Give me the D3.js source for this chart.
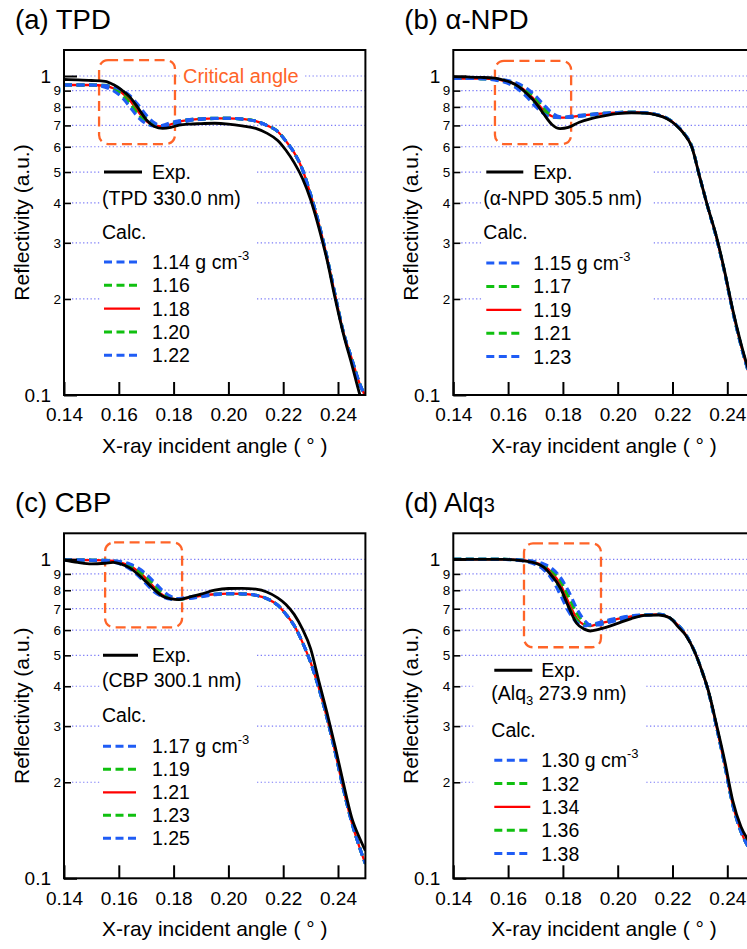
<!DOCTYPE html>
<html><head><meta charset="utf-8">
<script src="https://cdn.jsdelivr.net/npm/d3@7"></script>
<style>
html,body{margin:0;padding:0;background:#fff;}
svg{display:block;font-family:"Liberation Sans",Arial,Helvetica,sans-serif;}
</style></head>
<body>
<script>
// ---------------- DATA ----------------
const xTicks = [0.14, 0.16, 0.18, 0.20, 0.22, 0.24];
const yMajorTicks = [1, 0.1];
const yMajorLabels = ["1", "0.1"];
const yMinorTicks = [0.9, 0.8, 0.7, 0.6, 0.5, 0.4, 0.3, 0.2];
const yMinorLabels = ["9", "8", "7", "6", "5", "4", "3", "2"];
const gridValues = [1, 0.9, 0.8, 0.7, 0.6, 0.5, 0.4, 0.3, 0.2];

// (a) TPD
const angleA = [0.140,0.145,0.150,0.155,0.158,0.161,0.164,0.167,0.170,0.173,0.176,0.179,0.182,0.186,0.190,0.195,0.200,0.205,0.210,0.214,0.218,0.221,0.224,0.227,0.230,0.233,0.236,0.239,0.242,0.245,0.248,0.250];
const expA = [0.975,0.972,0.968,0.962,0.940,0.905,0.860,0.795,0.730,0.695,0.685,0.690,0.702,0.707,0.709,0.711,0.707,0.698,0.685,0.662,0.628,0.585,0.535,0.478,0.410,0.335,0.265,0.200,0.155,0.125,0.100,0.088];
const calcA114 = [0.937,0.937,0.937,0.922,0.899,0.859,0.801,0.743,0.709,0.697,0.701,0.714,0.724,0.731,0.735,0.737,0.737,0.733,0.722,0.700,0.670,0.625,0.575,0.510,0.425,0.345,0.270,0.205,0.157,0.130,0.108,0.099];
const calcA116 = [0.937,0.937,0.937,0.927,0.907,0.874,0.820,0.759,0.715,0.698,0.698,0.709,0.722,0.730,0.735,0.737,0.737,0.733,0.722,0.700,0.670,0.625,0.575,0.510,0.425,0.345,0.270,0.205,0.157,0.130,0.108,0.099];
const calcA118 = [0.937,0.937,0.937,0.932,0.915,0.888,0.840,0.775,0.722,0.700,0.695,0.705,0.720,0.729,0.734,0.737,0.737,0.733,0.722,0.700,0.670,0.625,0.575,0.510,0.425,0.345,0.270,0.205,0.157,0.130,0.108,0.099];
const calcA120 = [0.937,0.937,0.937,0.935,0.920,0.896,0.855,0.795,0.738,0.706,0.696,0.702,0.716,0.727,0.732,0.736,0.737,0.733,0.722,0.700,0.670,0.625,0.575,0.510,0.425,0.345,0.270,0.205,0.157,0.130,0.108,0.099];
const calcA122 = [0.937,0.937,0.937,0.934,0.925,0.904,0.869,0.814,0.754,0.713,0.698,0.699,0.711,0.725,0.731,0.736,0.737,0.733,0.722,0.700,0.670,0.625,0.575,0.510,0.425,0.345,0.270,0.205,0.157,0.130,0.108,0.099];
const densA = ["1.14", "1.16", "1.18", "1.20", "1.22"];

// (b) α-NPD
const angleB = angleA;
const expB = [0.995,0.993,0.990,0.984,0.972,0.955,0.925,0.878,0.825,0.760,0.705,0.684,0.690,0.716,0.734,0.750,0.762,0.767,0.765,0.755,0.735,0.705,0.662,0.600,0.480,0.385,0.315,0.245,0.185,0.145,0.118,0.105];
const calcB115 = [0.982,0.982,0.981,0.972,0.960,0.939,0.904,0.857,0.802,0.761,0.743,0.741,0.746,0.753,0.759,0.765,0.768,0.770,0.767,0.757,0.737,0.707,0.664,0.602,0.480,0.385,0.312,0.243,0.183,0.143,0.116,0.103];
const calcB117 = [0.982,0.982,0.981,0.975,0.964,0.947,0.916,0.873,0.819,0.770,0.745,0.740,0.744,0.751,0.758,0.764,0.768,0.770,0.767,0.757,0.737,0.707,0.664,0.602,0.480,0.385,0.312,0.243,0.183,0.143,0.116,0.103];
const calcB119 = [0.982,0.982,0.981,0.978,0.968,0.955,0.928,0.888,0.836,0.780,0.748,0.740,0.742,0.750,0.757,0.764,0.768,0.770,0.767,0.757,0.737,0.707,0.664,0.602,0.480,0.385,0.312,0.243,0.183,0.143,0.116,0.103];
const calcB121 = [0.982,0.982,0.981,0.979,0.971,0.959,0.936,0.900,0.852,0.797,0.757,0.742,0.741,0.748,0.755,0.763,0.768,0.770,0.767,0.757,0.737,0.707,0.664,0.602,0.480,0.385,0.312,0.243,0.183,0.143,0.116,0.103];
const calcB123 = [0.982,0.982,0.981,0.980,0.974,0.963,0.944,0.912,0.867,0.814,0.767,0.745,0.741,0.746,0.754,0.762,0.768,0.770,0.767,0.757,0.737,0.707,0.664,0.602,0.480,0.385,0.312,0.243,0.183,0.143,0.116,0.103];
const densB = ["1.15", "1.17", "1.19", "1.21", "1.23"];

// (c) CBP
const angleC = angleA;
const expC = [0.995,0.978,0.967,0.972,0.978,0.965,0.940,0.898,0.850,0.803,0.766,0.752,0.748,0.763,0.778,0.800,0.810,0.811,0.806,0.790,0.757,0.722,0.672,0.605,0.525,0.415,0.330,0.258,0.198,0.155,0.133,0.122];
const calcC117 = [0.995,0.995,0.994,0.990,0.980,0.963,0.933,0.889,0.837,0.790,0.762,0.750,0.753,0.763,0.771,0.778,0.780,0.779,0.771,0.753,0.718,0.672,0.620,0.550,0.475,0.395,0.318,0.248,0.190,0.150,0.124,0.111];
const calcC119 = [0.995,0.995,0.994,0.991,0.984,0.969,0.944,0.904,0.854,0.803,0.768,0.752,0.750,0.760,0.770,0.777,0.780,0.779,0.771,0.753,0.718,0.672,0.620,0.550,0.475,0.395,0.318,0.248,0.190,0.150,0.124,0.111];
const calcC121 = [0.995,0.995,0.994,0.992,0.988,0.975,0.955,0.918,0.870,0.815,0.773,0.754,0.748,0.758,0.768,0.777,0.780,0.779,0.771,0.753,0.718,0.672,0.620,0.550,0.475,0.395,0.318,0.248,0.190,0.150,0.124,0.111];
const calcC123 = [0.995,0.995,0.994,0.993,0.989,0.979,0.961,0.929,0.885,0.832,0.786,0.760,0.750,0.756,0.766,0.776,0.780,0.779,0.771,0.753,0.718,0.672,0.620,0.550,0.475,0.395,0.318,0.248,0.190,0.150,0.124,0.111];
const calcC125 = [0.995,0.995,0.994,0.993,0.990,0.983,0.967,0.940,0.899,0.848,0.798,0.765,0.752,0.754,0.763,0.774,0.780,0.779,0.771,0.753,0.718,0.672,0.620,0.550,0.475,0.395,0.318,0.248,0.190,0.150,0.124,0.111];
const densC = ["1.17", "1.19", "1.21", "1.23", "1.25"];

// (d) Alq3
const angleD = [0.140,0.145,0.150,0.155,0.158,0.161,0.164,0.167,0.170,0.173,0.176,0.179,0.182,0.185,0.188,0.190,0.193,0.196,0.200,0.205,0.210,0.215,0.219,0.222,0.225,0.228,0.231,0.233,0.236,0.239,0.242,0.245,0.248,0.250];
const expD = [1.0,1.0,1.0,1.0,1.0,0.998,0.993,0.985,0.972,0.945,0.886,0.815,0.712,0.630,0.603,0.596,0.603,0.613,0.630,0.652,0.667,0.669,0.656,0.615,0.575,0.515,0.440,0.390,0.305,0.235,0.175,0.145,0.130,0.122];
const calcD130 = [1.0,1.0,1.0,1.0,1.0,0.996,0.991,0.981,0.963,0.927,0.866,0.776,0.687,0.635,0.618,0.624,0.633,0.643,0.654,0.665,0.670,0.672,0.655,0.622,0.578,0.515,0.440,0.388,0.300,0.228,0.170,0.140,0.124,0.117];
const calcD132 = [1.0,1.0,1.0,1.0,1.0,0.997,0.993,0.985,0.970,0.941,0.887,0.807,0.711,0.645,0.620,0.621,0.630,0.640,0.652,0.664,0.670,0.672,0.655,0.622,0.578,0.515,0.440,0.388,0.300,0.228,0.170,0.140,0.124,0.117];
const calcD134 = [1.0,1.0,1.0,1.0,1.0,0.998,0.995,0.988,0.976,0.955,0.908,0.838,0.735,0.655,0.622,0.618,0.628,0.637,0.650,0.662,0.670,0.672,0.655,0.622,0.578,0.515,0.440,0.388,0.300,0.228,0.170,0.140,0.124,0.117];
const calcD136 = [1.0,1.0,1.0,1.0,1.0,0.999,0.996,0.990,0.980,0.962,0.922,0.859,0.766,0.679,0.632,0.620,0.625,0.634,0.647,0.660,0.669,0.672,0.655,0.622,0.578,0.515,0.440,0.388,0.300,0.228,0.170,0.140,0.124,0.117];
const calcD138 = [1.0,1.0,1.0,1.0,1.0,0.999,0.997,0.992,0.983,0.968,0.936,0.880,0.797,0.703,0.642,0.622,0.622,0.632,0.644,0.658,0.667,0.672,0.655,0.622,0.578,0.515,0.440,0.388,0.300,0.228,0.170,0.140,0.124,0.117];
const densD = ["1.30", "1.32", "1.34", "1.36", "1.38"];

// critical-angle boxes: [x0, x1, yTop, yBottom] in data units
const critBoxA = [0.1528, 0.1805, 1.122, 0.612];
const critBoxB = [0.1552, 0.1830, 1.115, 0.612];
const critBoxC = [0.1550, 0.1831, 1.130, 0.612];
const critBoxD = [0.1658, 0.1939, 1.122, 0.530];

// ---------------- LAYOUT ----------------
const W = 747, H = 949, PW = 301.4, PH = 345;
const FONT = '"Liberation Sans",Arial,Helvetica,sans-serif';
const ORANGE = "#ff6428", BLUE = "#1f5cf5", GREEN = "#10c010", RED = "#ff0000", GRID = "#7c7cf8";
const calcStyles = [
  {color: BLUE, dash: "8,4.5", width: 3},
  {color: GREEN, dash: "8,4.5", width: 3},
  {color: RED, dash: null, width: 2.3},
  {color: GREEN, dash: "8,4.5", width: 3},
  {color: BLUE, dash: "8,4.5", width: 3}
];
const drawOrder = [2, 1, 3, 0, 4];

const panels = [
  {left: 64, top: 50, title: "(a) TPD", sub: null, x: angleA, exp: expA,
   calc: [calcA114, calcA116, calcA118, calcA120, calcA122], dens: densA, box: critBoxA,
   note: "(TPD 330.0 nm)", critLabel: true,
   lg: {lx0: 40, lx1: 78, tx: 88, expY: 122, nx: 38, noteY: 155, calcY: 189, row0: 212, step: 23.3, bg: [36, 108, 191, 318]}},
  {left: 453.3, top: 50, title: "(b) α-NPD", sub: null, x: angleB, exp: expB,
   calc: [calcB115, calcB117, calcB119, calcB121, calcB123], dens: densB, box: critBoxB,
   note: "(α-NPD 305.5 nm)", critLabel: false,
   lg: {lx0: 33, lx1: 70, tx: 80, expY: 122, nx: 30, noteY: 155, calcY: 189, row0: 213, step: 23.4, bg: [28, 108, 200, 318]}},
  {left: 64, top: 533.3, title: "(c) CBP", sub: null, x: angleC, exp: expC,
   calc: [calcC117, calcC119, calcC121, calcC123, calcC125], dens: densC, box: critBoxC,
   note: "(CBP 300.1 nm)", critLabel: false,
   lg: {lx0: 39, lx1: 74, tx: 88, expY: 122, nx: 38, noteY: 154, calcY: 189, row0: 213, step: 23, bg: [36, 108, 191, 318]}},
  {left: 453.3, top: 533.3, title: "(d) Alq", sub: "3", x: angleD, exp: expD,
   calc: [calcD130, calcD132, calcD134, calcD136, calcD138], dens: densD, box: critBoxD,
   note: "alq", critLabel: false,
   lg: {lx0: 41, lx1: 79, tx: 88, expY: 137, nx: 38, noteY: 167, calcY: 204, row0: 227, step: 23.3, bg: [20, 128, 192, 338]}}
];

const svg = d3.select("body").append("svg")
  .attr("width", W).attr("height", H).attr("viewBox", `0 0 ${W} ${H}`)
  .style("font-family", FONT);
svg.append("rect").attr("width", W).attr("height", H).attr("fill", "#fff");

panels.forEach((p, pi) => {
  const L = p.left, T = p.top;
  const x = d3.scaleLinear().domain([0.14, 0.25]).range([L, L + PW]);
  const y = d3.scaleLog().domain([0.1, 1]).range([T + PH, T + 26]);
  const g = svg.append("g");

  const cid = "clip" + pi;
  svg.append("clipPath").attr("id", cid).append("rect")
    .attr("x", L).attr("y", T).attr("width", PW).attr("height", PH);

  // gridlines
  g.selectAll(".grid").data(gridValues).enter().append("line")
    .attr("x1", L + 8).attr("x2", L + PW)
    .attr("y1", d => y(d)).attr("y2", d => y(d))
    .attr("stroke", GRID).attr("stroke-width", 1.2).attr("stroke-dasharray", "1.3,2.4");

  // legend background
  const lg = p.lg;
  g.append("rect").attr("x", L + lg.bg[0]).attr("y", T + lg.bg[1])
    .attr("width", lg.bg[2] - lg.bg[0]).attr("height", lg.bg[3] - lg.bg[1]).attr("fill", "#fff");

  if (p.critLabel) {
    g.append("rect").attr("x", L + 116).attr("y", y(1) - 11).attr("width", 124).attr("height", 22).attr("fill", "#fff");
    g.append("text").attr("x", L + 119).attr("y", y(1) + 7)
      .attr("font-size", 20).attr("fill", ORANGE).text("Critical angle");
  }

  const b = p.box;
  g.append("rect").attr("x", x(b[0])).attr("y", y(b[2]))
    .attr("width", x(b[1]) - x(b[0])).attr("height", y(b[3]) - y(b[2]))
    .attr("rx", 9).attr("ry", 9).attr("fill", "none")
    .attr("stroke", ORANGE).attr("stroke-width", 2.3).attr("stroke-dasharray", "10,5.5");

  // curves
  const cg = g.append("g").attr("clip-path", `url(#${cid})`);
  const line = d3.line().x(d => x(d[0])).y(d => y(d[1])).curve(d3.curveMonotoneX);
  drawOrder.forEach(i => {
    const st = calcStyles[i];
    cg.append("path").datum(p.x.map((v, k) => [v, p.calc[i][k]]))
      .attr("d", line).attr("fill", "none").attr("stroke", st.color)
      .attr("stroke-width", st.width).attr("stroke-dasharray", st.dash)
      .attr("stroke-linejoin", "round");
  });
  cg.append("path").datum(p.x.map((v, k) => [v, p.exp[k]]))
    .attr("d", line).attr("fill", "none").attr("stroke", "#000")
    .attr("stroke-width", 2.8).attr("stroke-linejoin", "round");

  // axes
  const xAxis = d3.axisBottom(x).tickValues(xTicks).tickFormat(d3.format(".2f"))
    .tickSizeInner(-13).tickSizeOuter(0).tickPadding(13);
  const xa = g.append("g").attr("transform", `translate(0,${T + PH})`).call(xAxis);
  xa.select(".domain").remove();
  xa.selectAll("line").attr("stroke", "#000").attr("stroke-width", 2);
  xa.selectAll("text").attr("font-size", 19).attr("font-family", FONT).attr("fill", "#000");

  const yAxisMajor = d3.axisLeft(y).tickValues(yMajorTicks)
    .tickFormat((d, i) => yMajorLabels[i]).tickSizeInner(-13).tickSizeOuter(0).tickPadding(13);
  const ya = g.append("g").attr("transform", `translate(${L},0)`).call(yAxisMajor);
  ya.select(".domain").remove();
  ya.selectAll("line").attr("stroke", "#000").attr("stroke-width", 2);
  ya.selectAll("text").attr("font-size", 19).attr("font-family", FONT).attr("fill", "#000");

  const yAxisMinor = d3.axisLeft(y).tickValues(yMinorTicks)
    .tickFormat((d, i) => yMinorLabels[i]).tickSizeInner(-7).tickSizeOuter(0).tickPadding(3);
  const ym = g.append("g").attr("transform", `translate(${L},0)`).call(yAxisMinor);
  ym.select(".domain").remove();
  ym.selectAll("line").attr("stroke", "#000").attr("stroke-width", 1.6);
  ym.selectAll("text").attr("font-size", 13.5).attr("font-family", FONT).attr("fill", "#000");

  g.append("rect").attr("x", L).attr("y", T).attr("width", PW).attr("height", PH)
    .attr("fill", "none").attr("stroke", "#000").attr("stroke-width", 2);

  const tt = g.append("text").attr("x", L - 49).attr("y", T - 21).attr("font-size", 27.5).text(p.title);
  if (p.sub) tt.append("tspan").attr("font-size", 20).text(p.sub);

  g.append("text").attr("x", L + PW / 2).attr("y", T + PH + 58).attr("text-anchor", "middle")
    .attr("font-size", 21).text("X-ray incident angle (\u00a0°\u00a0)");
  g.append("text").attr("transform", `translate(${L - 35},${T + PH / 2}) rotate(-90)`)
    .attr("text-anchor", "middle").attr("font-size", 21).text("Reflectivity (a.u.)");

  // legend
  g.append("line").attr("x1", L + lg.lx0).attr("x2", L + lg.lx1)
    .attr("y1", T + lg.expY).attr("y2", T + lg.expY).attr("stroke", "#000").attr("stroke-width", 3);
  g.append("text").attr("x", L + lg.tx).attr("y", T + lg.expY + 7).attr("font-size", 19.5).text("Exp.");
  const nt = g.append("text").attr("x", L + lg.nx).attr("y", T + lg.noteY).attr("font-size", 19.5);
  if (p.note === "alq") {
    nt.append("tspan").text("(Alq");
    nt.append("tspan").attr("font-size", 13).attr("dy", 5).text("3");
    nt.append("tspan").attr("dy", -5).text(" 273.9 nm)");
  } else nt.text(p.note);
  g.append("text").attr("x", L + lg.nx).attr("y", T + lg.calcY).attr("font-size", 19.5).text("Calc.");
  p.dens.forEach((dv, i) => {
    const st = calcStyles[i];
    const yy = T + lg.row0 + i * lg.step;
    g.append("line").attr("x1", L + lg.lx0).attr("x2", L + lg.lx1 - 2).attr("y1", yy).attr("y2", yy)
      .attr("stroke", st.color).attr("stroke-width", st.width).attr("stroke-dasharray", st.dash);
    const t = g.append("text").attr("x", L + lg.tx).attr("y", yy + 7).attr("font-size", 19.5);
    if (i === 0) {
      t.append("tspan").text(dv + " g cm");
      t.append("tspan").attr("font-size", 13).attr("dy", -9).text("-3");
    } else t.text(dv);
  });
});
</script>
</body></html>
